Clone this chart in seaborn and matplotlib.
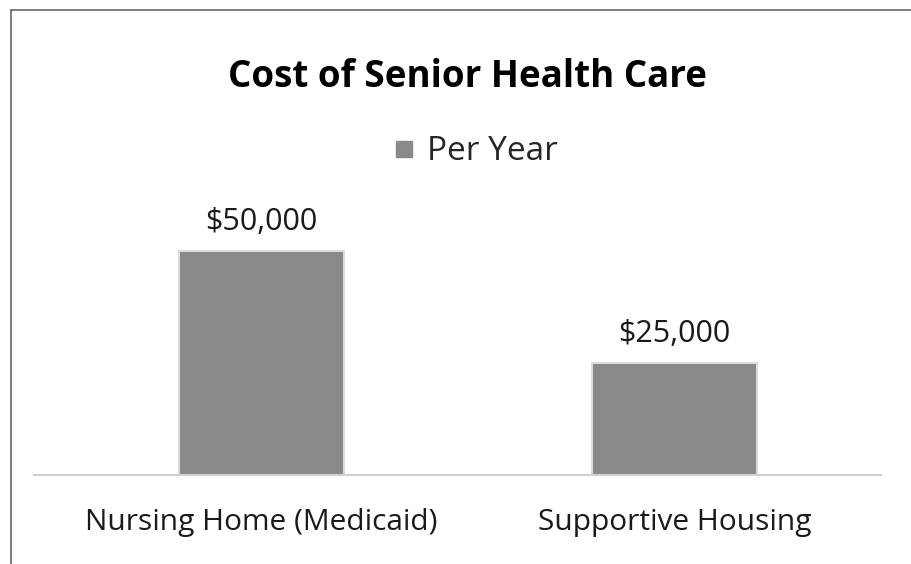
import matplotlib
matplotlib.use("Agg")
import matplotlib.pyplot as plt
import seaborn as sns
import pandas as pd
from matplotlib.lines import Line2D

categories = ["Nursing Home (Medicaid)", "Supportive Housing"]
values = [50000, 25000]
series_name = "Per Year"
title = "Cost of Senior Health Care"

df = pd.DataFrame({"category": categories, "value": values, "series": [series_name] * len(categories)})

sns.set_theme(style="white")
plt.rcParams["font.family"] = ["Open Sans", "DejaVu Sans"]

fig = plt.figure(figsize=(9.11, 5.64), dpi=100)
ax = fig.add_axes([34 / 911, (564 - 475) / 564, 847 / 911, 0.6])

sns.barplot(data=df, x="category", y="value", hue="series", palette=["#898989"],
            width=0.4, dodge=False, ax=ax, edgecolor="#dcdcdc", linewidth=1.5,
            legend=True)

ax.set_xlim(-0.55, 1.5)
ax.set_ylim(0, 60000)
h_px = 224 * 60000 / 50000
pos = ax.get_position()
ax.set_position([pos.x0, pos.y0, pos.width, h_px / 564])

for s in ["top", "right", "left"]:
    ax.spines[s].set_visible(False)
ax.spines["bottom"].set_color("#d0d0d0")
ax.spines["bottom"].set_linewidth(1.5)
ax.set_yticks([])
ax.set_xlabel("")
ax.set_ylabel("")
ax.tick_params(axis="x", length=0, pad=24, labelsize=21.5, labelcolor="#1a1a1a")

for c in ax.containers:
    ax.bar_label(c, labels=[f"${v:,.0f}" for v in values], padding=10, fontsize=22, color="#1a1a1a")

ax.legend_.remove()
handle = Line2D([], [], marker="s", linestyle="none", markersize=11.5,
                markerfacecolor="#898989", markeredgecolor="#898989")
fig.legend([handle], [series_name], loc="center", bbox_to_anchor=(474 / 911, 1 - 152 / 564),
           frameon=False, fontsize=24, handletextpad=0.3, handlelength=0.8)

fig.text(467 / 911, 1 - 77 / 564, title, ha="center", va="center",
         fontsize=26.5, fontweight="bold", color="#000000")

fig.add_artist(Line2D([11 / 911, 11 / 911], [0, 1 - 10 / 564], transform=fig.transFigure,
                      color="#666666", linewidth=1.2))
fig.add_artist(Line2D([11 / 911, 1], [1 - 10 / 564, 1 - 10 / 564], transform=fig.transFigure,
                      color="#666666", linewidth=1.2))

fig.savefig("out.png", dpi=100, facecolor="white")
